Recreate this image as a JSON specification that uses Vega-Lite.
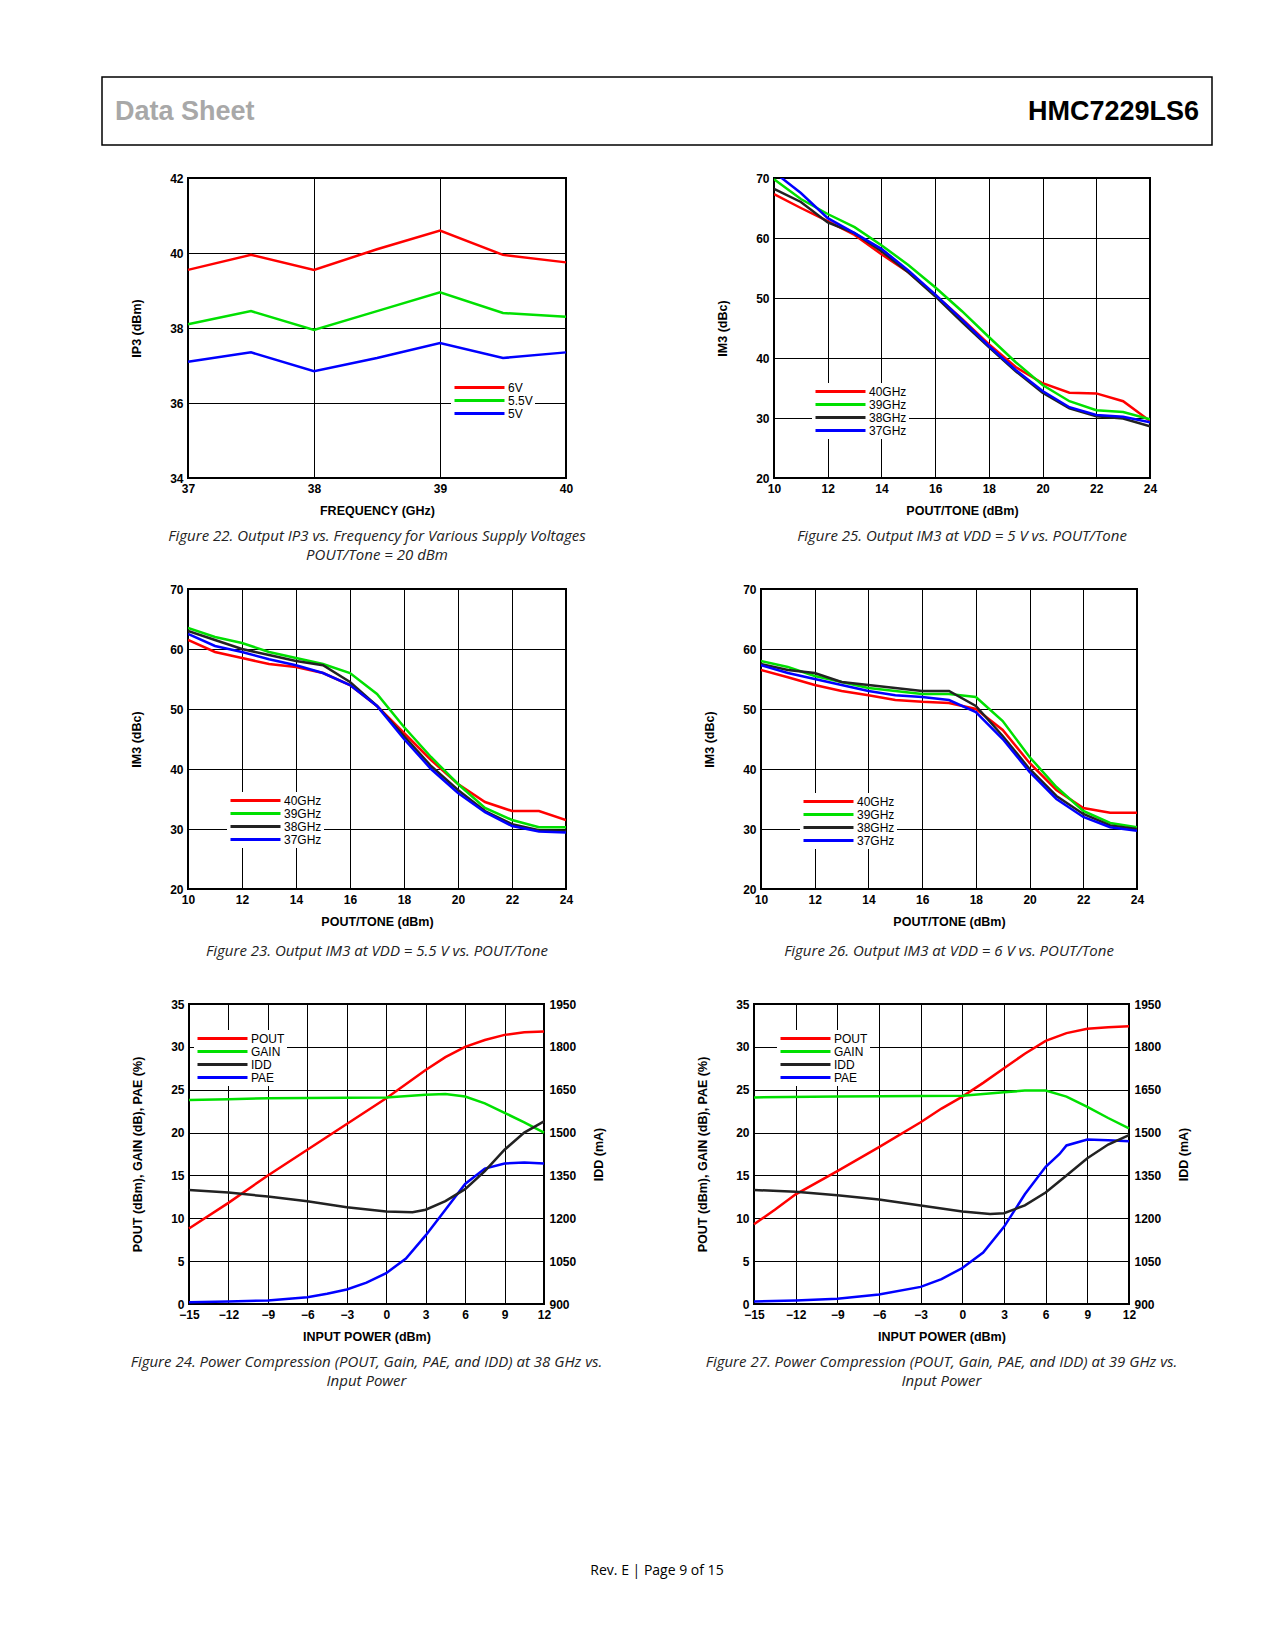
{
  "$schema": "https://vega.github.io/schema/vega-lite/v6.json",
  "padding": {"top": 76, "left": 101, "right": 10, "bottom": 10},
  "background": "white",
  "datasets": {
    "f22": [
      {"x": 37, "v": 39.55, "s": "6V"}, {"x": 37.5, "v": 39.95, "s": "6V"}, {"x": 38, "v": 39.55, "s": "6V"}, {"x": 38.5, "v": 40.1, "s": "6V"}, {"x": 39, "v": 40.6, "s": "6V"}, {"x": 39.5, "v": 39.95, "s": "6V"}, {"x": 40, "v": 39.75, "s": "6V"},
      {"x": 37, "v": 38.1, "s": "5.5V"}, {"x": 37.5, "v": 38.45, "s": "5.5V"}, {"x": 38, "v": 37.95, "s": "5.5V"}, {"x": 38.5, "v": 38.45, "s": "5.5V"}, {"x": 39, "v": 38.95, "s": "5.5V"}, {"x": 39.5, "v": 38.4, "s": "5.5V"}, {"x": 40, "v": 38.3, "s": "5.5V"},
      {"x": 37, "v": 37.1, "s": "5V"}, {"x": 37.5, "v": 37.35, "s": "5V"}, {"x": 38, "v": 36.85, "s": "5V"}, {"x": 38.5, "v": 37.2, "s": "5V"}, {"x": 39, "v": 37.6, "s": "5V"}, {"x": 39.5, "v": 37.2, "s": "5V"}, {"x": 40, "v": 37.35, "s": "5V"}
    ],
    "f25": [
      {"x":10,"v":67.3,"s":"40GHz"},{"x":11,"v":65,"s":"40GHz"},{"x":12,"v":62.8,"s":"40GHz"},{"x":13,"v":60.5,"s":"40GHz"},{"x":14,"v":57.3,"s":"40GHz"},{"x":15,"v":54.3,"s":"40GHz"},{"x":16,"v":50.5,"s":"40GHz"},{"x":17,"v":46.5,"s":"40GHz"},{"x":18,"v":42.3,"s":"40GHz"},{"x":19,"v":38.5,"s":"40GHz"},{"x":20,"v":35.8,"s":"40GHz"},{"x":21,"v":34.2,"s":"40GHz"},{"x":22,"v":34.1,"s":"40GHz"},{"x":23,"v":32.8,"s":"40GHz"},{"x":24,"v":29.5,"s":"40GHz"},
      {"x":10,"v":69.8,"s":"39GHz"},{"x":11,"v":66.5,"s":"39GHz"},{"x":12,"v":64,"s":"39GHz"},{"x":13,"v":61.8,"s":"39GHz"},{"x":14,"v":58.8,"s":"39GHz"},{"x":15,"v":55.5,"s":"39GHz"},{"x":16,"v":51.8,"s":"39GHz"},{"x":17,"v":47.8,"s":"39GHz"},{"x":18,"v":43.5,"s":"39GHz"},{"x":19,"v":39.3,"s":"39GHz"},{"x":20,"v":35.5,"s":"39GHz"},{"x":21,"v":32.8,"s":"39GHz"},{"x":22,"v":31.3,"s":"39GHz"},{"x":23,"v":31,"s":"39GHz"},{"x":24,"v":29.8,"s":"39GHz"},
      {"x":10,"v":68.2,"s":"38GHz"},{"x":11,"v":66,"s":"38GHz"},{"x":12,"v":62.6,"s":"38GHz"},{"x":13,"v":60.8,"s":"38GHz"},{"x":14,"v":57.8,"s":"38GHz"},{"x":15,"v":54.3,"s":"38GHz"},{"x":16,"v":50.3,"s":"38GHz"},{"x":17,"v":46,"s":"38GHz"},{"x":18,"v":41.8,"s":"38GHz"},{"x":19,"v":37.8,"s":"38GHz"},{"x":20,"v":34.2,"s":"38GHz"},{"x":21,"v":31.6,"s":"38GHz"},{"x":22,"v":30.3,"s":"38GHz"},{"x":23,"v":29.9,"s":"38GHz"},{"x":24,"v":28.6,"s":"38GHz"},
      {"x":10,"v":71,"s":"37GHz"},{"x":11,"v":67.5,"s":"37GHz"},{"x":12,"v":63.3,"s":"37GHz"},{"x":13,"v":60.8,"s":"37GHz"},{"x":14,"v":58.2,"s":"37GHz"},{"x":15,"v":54.6,"s":"37GHz"},{"x":16,"v":50.6,"s":"37GHz"},{"x":17,"v":46.4,"s":"37GHz"},{"x":18,"v":42,"s":"37GHz"},{"x":19,"v":38,"s":"37GHz"},{"x":20,"v":34.5,"s":"37GHz"},{"x":21,"v":31.8,"s":"37GHz"},{"x":22,"v":30.5,"s":"37GHz"},{"x":23,"v":30.2,"s":"37GHz"},{"x":24,"v":29.3,"s":"37GHz"}
    ],
    "f23": [
      {"x":10,"v":61.5,"s":"40GHz"},{"x":11,"v":59.5,"s":"40GHz"},{"x":12,"v":58.5,"s":"40GHz"},{"x":13,"v":57.5,"s":"40GHz"},{"x":14,"v":57,"s":"40GHz"},{"x":15,"v":56,"s":"40GHz"},{"x":16,"v":54,"s":"40GHz"},{"x":17,"v":50.5,"s":"40GHz"},{"x":18,"v":46,"s":"40GHz"},{"x":19,"v":41.5,"s":"40GHz"},{"x":20,"v":37.5,"s":"40GHz"},{"x":21,"v":34.5,"s":"40GHz"},{"x":22,"v":33,"s":"40GHz"},{"x":23,"v":33,"s":"40GHz"},{"x":24,"v":31.5,"s":"40GHz"},
      {"x":10,"v":63.5,"s":"39GHz"},{"x":11,"v":62,"s":"39GHz"},{"x":12,"v":61,"s":"39GHz"},{"x":13,"v":59.5,"s":"39GHz"},{"x":14,"v":58.5,"s":"39GHz"},{"x":15,"v":57.5,"s":"39GHz"},{"x":16,"v":56,"s":"39GHz"},{"x":17,"v":52.5,"s":"39GHz"},{"x":18,"v":47,"s":"39GHz"},{"x":19,"v":42,"s":"39GHz"},{"x":20,"v":37.5,"s":"39GHz"},{"x":21,"v":33.5,"s":"39GHz"},{"x":22,"v":31.5,"s":"39GHz"},{"x":23,"v":30.3,"s":"39GHz"},{"x":24,"v":30.3,"s":"39GHz"},
      {"x":10,"v":63,"s":"38GHz"},{"x":11,"v":61.5,"s":"38GHz"},{"x":12,"v":60,"s":"38GHz"},{"x":13,"v":59,"s":"38GHz"},{"x":14,"v":58,"s":"38GHz"},{"x":15,"v":57.3,"s":"38GHz"},{"x":16,"v":54.5,"s":"38GHz"},{"x":17,"v":50.5,"s":"38GHz"},{"x":18,"v":45.5,"s":"38GHz"},{"x":19,"v":40.5,"s":"38GHz"},{"x":20,"v":36.5,"s":"38GHz"},{"x":21,"v":33,"s":"38GHz"},{"x":22,"v":30.8,"s":"38GHz"},{"x":23,"v":29.8,"s":"38GHz"},{"x":24,"v":29.7,"s":"38GHz"},
      {"x":10,"v":62.5,"s":"37GHz"},{"x":11,"v":60.5,"s":"37GHz"},{"x":12,"v":59.5,"s":"37GHz"},{"x":13,"v":58.3,"s":"37GHz"},{"x":14,"v":57.3,"s":"37GHz"},{"x":15,"v":56,"s":"37GHz"},{"x":16,"v":54,"s":"37GHz"},{"x":17,"v":50.5,"s":"37GHz"},{"x":18,"v":45,"s":"37GHz"},{"x":19,"v":40,"s":"37GHz"},{"x":20,"v":36,"s":"37GHz"},{"x":21,"v":32.8,"s":"37GHz"},{"x":22,"v":30.5,"s":"37GHz"},{"x":23,"v":29.6,"s":"37GHz"},{"x":24,"v":29.4,"s":"37GHz"}
    ],
    "f26": [
      {"x":10,"v":56.5,"s":"40GHz"},{"x":11,"v":55.3,"s":"40GHz"},{"x":12,"v":54,"s":"40GHz"},{"x":13,"v":53,"s":"40GHz"},{"x":14,"v":52.3,"s":"40GHz"},{"x":15,"v":51.5,"s":"40GHz"},{"x":16,"v":51.2,"s":"40GHz"},{"x":17,"v":51,"s":"40GHz"},{"x":18,"v":50,"s":"40GHz"},{"x":19,"v":46.5,"s":"40GHz"},{"x":20,"v":41,"s":"40GHz"},{"x":21,"v":36.5,"s":"40GHz"},{"x":22,"v":33.5,"s":"40GHz"},{"x":23,"v":32.7,"s":"40GHz"},{"x":24,"v":32.7,"s":"40GHz"},
      {"x":10,"v":58,"s":"39GHz"},{"x":11,"v":57,"s":"39GHz"},{"x":12,"v":55.5,"s":"39GHz"},{"x":13,"v":54.5,"s":"39GHz"},{"x":14,"v":53.5,"s":"39GHz"},{"x":15,"v":53,"s":"39GHz"},{"x":16,"v":52.5,"s":"39GHz"},{"x":17,"v":52.5,"s":"39GHz"},{"x":18,"v":52,"s":"39GHz"},{"x":19,"v":48,"s":"39GHz"},{"x":20,"v":42,"s":"39GHz"},{"x":21,"v":37,"s":"39GHz"},{"x":22,"v":33,"s":"39GHz"},{"x":23,"v":31,"s":"39GHz"},{"x":24,"v":30.3,"s":"39GHz"},
      {"x":10,"v":57.5,"s":"38GHz"},{"x":11,"v":56.5,"s":"38GHz"},{"x":12,"v":56,"s":"38GHz"},{"x":13,"v":54.5,"s":"38GHz"},{"x":14,"v":54,"s":"38GHz"},{"x":15,"v":53.5,"s":"38GHz"},{"x":16,"v":53,"s":"38GHz"},{"x":17,"v":53,"s":"38GHz"},{"x":18,"v":50.5,"s":"38GHz"},{"x":19,"v":45.5,"s":"38GHz"},{"x":20,"v":40,"s":"38GHz"},{"x":21,"v":35.5,"s":"38GHz"},{"x":22,"v":32.5,"s":"38GHz"},{"x":23,"v":30.6,"s":"38GHz"},{"x":24,"v":30,"s":"38GHz"},
      {"x":10,"v":57.3,"s":"37GHz"},{"x":11,"v":56,"s":"37GHz"},{"x":12,"v":55,"s":"37GHz"},{"x":13,"v":54,"s":"37GHz"},{"x":14,"v":53,"s":"37GHz"},{"x":15,"v":52.3,"s":"37GHz"},{"x":16,"v":52,"s":"37GHz"},{"x":17,"v":51.5,"s":"37GHz"},{"x":18,"v":49.5,"s":"37GHz"},{"x":19,"v":45,"s":"37GHz"},{"x":20,"v":39.5,"s":"37GHz"},{"x":21,"v":35,"s":"37GHz"},{"x":22,"v":32,"s":"37GHz"},{"x":23,"v":30.3,"s":"37GHz"},{"x":24,"v":29.7,"s":"37GHz"}
    ],
    "f24": [
      {"x":-15,"v":8.8,"s":"POUT"},{"x":-12,"v":11.8,"s":"POUT"},{"x":-9,"v":15,"s":"POUT"},{"x":-6,"v":18,"s":"POUT"},{"x":-3,"v":21,"s":"POUT"},{"x":0,"v":24,"s":"POUT"},{"x":3,"v":27.3,"s":"POUT"},{"x":4.5,"v":28.8,"s":"POUT"},{"x":6,"v":30,"s":"POUT"},{"x":7.5,"v":30.8,"s":"POUT"},{"x":9,"v":31.4,"s":"POUT"},{"x":10.5,"v":31.7,"s":"POUT"},{"x":12,"v":31.8,"s":"POUT"},
      {"x":-15,"v":23.8,"s":"GAIN"},{"x":-12,"v":23.9,"s":"GAIN"},{"x":-9,"v":24,"s":"GAIN"},{"x":0,"v":24.1,"s":"GAIN"},{"x":3,"v":24.4,"s":"GAIN"},{"x":4.5,"v":24.5,"s":"GAIN"},{"x":6,"v":24.2,"s":"GAIN"},{"x":7.5,"v":23.4,"s":"GAIN"},{"x":9,"v":22.3,"s":"GAIN"},{"x":10.5,"v":21.2,"s":"GAIN"},{"x":12,"v":20,"s":"GAIN"},
      {"x":-15,"v":0.2,"s":"PAE"},{"x":-12,"v":0.3,"s":"PAE"},{"x":-9,"v":0.4,"s":"PAE"},{"x":-6,"v":0.8,"s":"PAE"},{"x":-4.5,"v":1.2,"s":"PAE"},{"x":-3,"v":1.7,"s":"PAE"},{"x":-1.5,"v":2.5,"s":"PAE"},{"x":0,"v":3.6,"s":"PAE"},{"x":1.5,"v":5.3,"s":"PAE"},{"x":3,"v":8,"s":"PAE"},{"x":4.5,"v":11,"s":"PAE"},{"x":6,"v":14,"s":"PAE"},{"x":7.5,"v":15.8,"s":"PAE"},{"x":9,"v":16.4,"s":"PAE"},{"x":10.5,"v":16.5,"s":"PAE"},{"x":12,"v":16.4,"s":"PAE"},
      {"x":-15,"i":1299,"s":"IDD"},{"x":-12,"i":1290,"s":"IDD"},{"x":-9,"i":1276,"s":"IDD"},{"x":-6,"i":1260,"s":"IDD"},{"x":-3,"i":1239,"s":"IDD"},{"x":0,"i":1224,"s":"IDD"},{"x":2,"i":1221,"s":"IDD"},{"x":3,"i":1230,"s":"IDD"},{"x":4.5,"i":1260,"s":"IDD"},{"x":6,"i":1302,"s":"IDD"},{"x":7.5,"i":1365,"s":"IDD"},{"x":9,"i":1440,"s":"IDD"},{"x":10.5,"i":1500,"s":"IDD"},{"x":12,"i":1539,"s":"IDD"}
    ],
    "f27": [
      {"x":-15,"v":9.3,"s":"POUT"},{"x":-13.5,"v":11,"s":"POUT"},{"x":-12,"v":12.8,"s":"POUT"},{"x":-9,"v":15.5,"s":"POUT"},{"x":-6,"v":18.3,"s":"POUT"},{"x":-3,"v":21.2,"s":"POUT"},{"x":-1.5,"v":22.8,"s":"POUT"},{"x":0,"v":24.2,"s":"POUT"},{"x":1.5,"v":25.8,"s":"POUT"},{"x":3,"v":27.5,"s":"POUT"},{"x":4.5,"v":29.2,"s":"POUT"},{"x":6,"v":30.7,"s":"POUT"},{"x":7.5,"v":31.6,"s":"POUT"},{"x":9,"v":32.1,"s":"POUT"},{"x":10.5,"v":32.3,"s":"POUT"},{"x":12,"v":32.4,"s":"POUT"},
      {"x":-15,"v":24.1,"s":"GAIN"},{"x":-9,"v":24.2,"s":"GAIN"},{"x":0,"v":24.3,"s":"GAIN"},{"x":3,"v":24.7,"s":"GAIN"},{"x":4.5,"v":24.9,"s":"GAIN"},{"x":6,"v":24.9,"s":"GAIN"},{"x":7.5,"v":24.2,"s":"GAIN"},{"x":9,"v":23,"s":"GAIN"},{"x":10.5,"v":21.7,"s":"GAIN"},{"x":12,"v":20.5,"s":"GAIN"},
      {"x":-15,"v":0.3,"s":"PAE"},{"x":-12,"v":0.4,"s":"PAE"},{"x":-9,"v":0.6,"s":"PAE"},{"x":-6,"v":1.1,"s":"PAE"},{"x":-3,"v":2,"s":"PAE"},{"x":-1.5,"v":2.9,"s":"PAE"},{"x":0,"v":4.2,"s":"PAE"},{"x":1.5,"v":6,"s":"PAE"},{"x":3,"v":9,"s":"PAE"},{"x":4.5,"v":12.8,"s":"PAE"},{"x":6,"v":16,"s":"PAE"},{"x":7,"v":17.5,"s":"PAE"},{"x":7.5,"v":18.5,"s":"PAE"},{"x":9,"v":19.2,"s":"PAE"},{"x":10.5,"v":19.1,"s":"PAE"},{"x":12,"v":19,"s":"PAE"},
      {"x":-15,"i":1299,"s":"IDD"},{"x":-12,"i":1293,"s":"IDD"},{"x":-9,"i":1281,"s":"IDD"},{"x":-6,"i":1266,"s":"IDD"},{"x":-3,"i":1245,"s":"IDD"},{"x":0,"i":1224,"s":"IDD"},{"x":2,"i":1215,"s":"IDD"},{"x":3,"i":1218,"s":"IDD"},{"x":4.5,"i":1245,"s":"IDD"},{"x":6,"i":1290,"s":"IDD"},{"x":7.5,"i":1350,"s":"IDD"},{"x":9,"i":1410,"s":"IDD"},{"x":10.5,"i":1458,"s":"IDD"},{"x":12,"i":1491,"s":"IDD"}
    ],
    "head": [{"a": "Data Sheet", "b": "HMC7229LS6"}],
    "foot": [{"t": "Rev. E | Page 9 of 15"}]
  },
  "spacing": 25,
  "resolve": {"scale": {"color": "independent"}, "legend": {"color": "independent"}},
  "vconcat": [
    {
      "width": 1110, "height": 68,
      "view": {"stroke": "black", "strokeWidth": 1.5},
      "data": {"name": "head"},
      "layer": [
        {"mark": {"type": "text", "align": "left", "font": "Liberation Sans", "fontWeight": "bold", "fontSize": 27, "color": "#a8a8a8", "x": 13, "y": 35}, "encoding": {"text": {"field": "a"}}},
        {"mark": {"type": "text", "align": "right", "font": "Liberation Sans", "fontWeight": "bold", "fontSize": 27, "color": "black", "x": 1097, "y": 35}, "encoding": {"text": {"field": "b"}}}
      ]
    },
    {
      "spacing": 18,
      "resolve": {"scale": {"color": "independent"}, "legend": {"color": "independent"}},
      "vconcat": [
        {
          "resolve": {"scale": {"color": "independent"}, "legend": {"color": "independent"}},
          "hconcat": [
            {"width": 7, "height": 1, "view": {"stroke": null}, "data": {"values": []}, "mark": "point", "encoding": {}},
            {
              "spacing": 128,
              "resolve": {"scale": {"color": "independent"}, "legend": {"color": "independent"}},
              "hconcat": [
                {
                  "width": 378, "height": 300,
                  "title": {"text": ["Figure 22. Output IP3 vs. Frequency for Various Supply Voltages", "POUT/Tone = 20 dBm"]},
                  "data": {"name": "f22"},
                  "mark": {"type": "line", "strokeWidth": 2.5},
                  "encoding": {
                    "x": {"field": "x", "type": "quantitative", "scale": {"domain": [37, 40]}, "axis": {"values": [37, 38, 39, 40], "title": "FREQUENCY (GHz)", "format": "d"}},
                    "y": {"field": "v", "type": "quantitative", "scale": {"domain": [34, 42]}, "axis": {"values": [34, 36, 38, 40, 42], "title": "IP3 (dBm)"}},
                    "color": {"field": "s", "type": "nominal", "scale": {"domain": ["6V", "5.5V", "5V"], "range": ["#ff0000", "#00e000", "#0000ff"]}, "legend": {"legendX": 263, "legendY": 201}}
                  }
                },
                {
                  "width": 376, "height": 300,
                  "title": {"text": "Figure 25. Output IM3 at VDD = 5 V vs. POUT/Tone"},
                  "data": {"name": "f25"},
                  "mark": {"type": "line", "strokeWidth": 2.5, "clip": true},
                  "encoding": {
                    "x": {"field": "x", "type": "quantitative", "scale": {"domain": [10, 24]}, "axis": {"values": [10, 12, 14, 16, 18, 20, 22, 24], "title": "POUT/TONE (dBm)"}},
                    "y": {"field": "v", "type": "quantitative", "scale": {"domain": [20, 70]}, "axis": {"values": [20, 30, 40, 50, 60, 70], "title": "IM3 (dBc)"}},
                    "color": {"field": "s", "type": "nominal", "scale": {"domain": ["40GHz", "39GHz", "38GHz", "37GHz"], "range": ["#ff0000", "#00e000", "#222222", "#0000ff"]}, "legend": {"legendX": 38, "legendY": 205}}
                  }
                }
              ]
            }
          ]
        },
        {
          "resolve": {"scale": {"color": "independent"}, "legend": {"color": "independent"}},
          "hconcat": [
            {"width": 7, "height": 1, "view": {"stroke": null}, "data": {"values": []}, "mark": "point", "encoding": {}},
            {
              "spacing": 128,
              "resolve": {"scale": {"color": "independent"}, "legend": {"color": "independent"}},
              "hconcat": [
                {
                  "width": 378, "height": 300,
                  "title": {"text": ["Figure 23. Output IM3 at VDD = 5.5 V vs. POUT/Tone", ""], "offset": 16},
                  "data": {"name": "f23"},
                  "mark": {"type": "line", "strokeWidth": 2.5, "clip": true},
                  "encoding": {
                    "x": {"field": "x", "type": "quantitative", "scale": {"domain": [10, 24]}, "axis": {"values": [10, 12, 14, 16, 18, 20, 22, 24], "title": "POUT/TONE (dBm)"}},
                    "y": {"field": "v", "type": "quantitative", "scale": {"domain": [20, 70]}, "axis": {"values": [20, 30, 40, 50, 60, 70], "title": "IM3 (dBc)"}},
                    "color": {"field": "s", "type": "nominal", "scale": {"domain": ["40GHz", "39GHz", "38GHz", "37GHz"], "range": ["#ff0000", "#00e000", "#222222", "#0000ff"]}, "legend": {"legendX": 39, "legendY": 203}}
                  }
                },
                {
                  "width": 376, "height": 300,
                  "title": {"text": ["Figure 26. Output IM3 at VDD = 6 V vs. POUT/Tone", ""], "offset": 16},
                  "data": {"name": "f26"},
                  "mark": {"type": "line", "strokeWidth": 2.5, "clip": true},
                  "encoding": {
                    "x": {"field": "x", "type": "quantitative", "scale": {"domain": [10, 24]}, "axis": {"values": [10, 12, 14, 16, 18, 20, 22, 24], "title": "POUT/TONE (dBm)"}},
                    "y": {"field": "v", "type": "quantitative", "scale": {"domain": [20, 70]}, "axis": {"values": [20, 30, 40, 50, 60, 70], "title": "IM3 (dBc)"}},
                    "color": {"field": "s", "type": "nominal", "scale": {"domain": ["40GHz", "39GHz", "38GHz", "37GHz"], "range": ["#ff0000", "#00e000", "#222222", "#0000ff"]}, "legend": {"legendX": 39, "legendY": 204}}
                  }
                }
              ]
            }
          ]
        },
        {
          "resolve": {"scale": {"color": "independent"}, "legend": {"color": "independent"}},
          "hconcat": [
            {"width": 7, "height": 1, "view": {"stroke": null}, "data": {"values": []}, "mark": "point", "encoding": {}},
            {
              "spacing": 88,
              "resolve": {"scale": {"color": "independent"}, "legend": {"color": "independent"}},
              "hconcat": [
                {
                  "width": 355, "height": 300,
                  "title": {"text": ["Figure 24. Power Compression (POUT, Gain, PAE, and IDD) at 38 GHz vs.", "Input Power"]},
                  "data": {"name": "f24"},
                  "encoding": {
                    "x": {"field": "x", "type": "quantitative", "scale": {"domain": [-15, 12]}, "axis": {"values": [-15, -12, -9, -6, -3, 0, 3, 6, 9, 12], "title": "INPUT POWER (dBm)"}},
                    "color": {"field": "s", "type": "nominal", "scale": {"domain": ["POUT", "GAIN", "IDD", "PAE"], "range": ["#ff0000", "#00e000", "#222222", "#0000ff"]}, "legend": {"legendX": 5, "legendY": 26}}
                  },
                  "layer": [
                    {
                      "transform": [{"filter": "datum.s !== 'IDD'"}],
                      "mark": {"type": "line", "strokeWidth": 2.5},
                      "encoding": {"y": {"field": "v", "type": "quantitative", "scale": {"domain": [0, 35]}, "axis": {"values": [0, 5, 10, 15, 20, 25, 30, 35], "title": "POUT (dBm), GAIN (dB), PAE (%)"}}}
                    },
                    {
                      "transform": [{"filter": "datum.s === 'IDD'"}],
                      "mark": {"type": "line", "strokeWidth": 2.5},
                      "encoding": {"y": {"field": "i", "type": "quantitative", "scale": {"domain": [900, 1950]}, "axis": {"orient": "right", "grid": false, "format": "d", "titleAngle": 270, "titlePadding": 30, "values": [900, 1050, 1200, 1350, 1500, 1650, 1800, 1950], "title": "IDD (mA)"}}}
                    }
                  ],
                  "resolve": {"scale": {"y": "independent"}}
                },
                {
                  "width": 375, "height": 300,
                  "title": {"text": ["Figure 27. Power Compression (POUT, Gain, PAE, and IDD) at 39 GHz vs.", "Input Power"]},
                  "data": {"name": "f27"},
                  "encoding": {
                    "x": {"field": "x", "type": "quantitative", "scale": {"domain": [-15, 12]}, "axis": {"values": [-15, -12, -9, -6, -3, 0, 3, 6, 9, 12], "title": "INPUT POWER (dBm)"}},
                    "color": {"field": "s", "type": "nominal", "scale": {"domain": ["POUT", "GAIN", "IDD", "PAE"], "range": ["#ff0000", "#00e000", "#222222", "#0000ff"]}, "legend": {"legendX": 23, "legendY": 26}}
                  },
                  "layer": [
                    {
                      "transform": [{"filter": "datum.s !== 'IDD'"}],
                      "mark": {"type": "line", "strokeWidth": 2.5},
                      "encoding": {"y": {"field": "v", "type": "quantitative", "scale": {"domain": [0, 35]}, "axis": {"values": [0, 5, 10, 15, 20, 25, 30, 35], "title": "POUT (dBm), GAIN (dB), PAE (%)"}}}
                    },
                    {
                      "transform": [{"filter": "datum.s === 'IDD'"}],
                      "mark": {"type": "line", "strokeWidth": 2.5},
                      "encoding": {"y": {"field": "i", "type": "quantitative", "scale": {"domain": [900, 1950]}, "axis": {"orient": "right", "grid": false, "format": "d", "titleAngle": 270, "titlePadding": 30, "values": [900, 1050, 1200, 1350, 1500, 1650, 1800, 1950], "title": "IDD (mA)"}}}
                    }
                  ],
                  "resolve": {"scale": {"y": "independent"}}
                }
              ]
            }
          ]
        },
        {
          "width": 1110, "height": 172,
          "view": {"stroke": null},
          "data": {"name": "foot"},
          "mark": {"type": "text", "font": "Open Sans", "fontSize": 14, "x": 555, "y": 163},
          "encoding": {"text": {"field": "t"}}
        }
      ]
    }
  ],
  "config": {
    "view": {"stroke": "black", "strokeWidth": 2},
    "axis": {
      "grid": true, "gridColor": "black", "gridOpacity": 1, "gridWidth": 1,
      "domain": false, "ticks": false,
      "labelFont": "Liberation Sans", "labelFontWeight": "bold", "labelFontSize": 12, "labelColor": "black", "labelPadding": 5,
      "titleFont": "Liberation Sans", "titleFontWeight": "bold", "titleFontSize": 12.5, "titleColor": "black", "titlePadding": 10
    },
    "axisY": {"titlePadding": 26},
    "axisX": {"labelFlush": false},
    "legend": {
      "orient": "none", "title": null, "fillColor": "white", "padding": 2, "rowPadding": 0,
      "symbolType": "M-1,0L9,0", "symbolSize": 100, "symbolStrokeWidth": 3, "symbolOpacity": 1,
      "labelFont": "Liberation Sans", "labelFontSize": 12, "labelColor": "black", "labelOffset": 42, "labelLimit": 200
    },
    "title": {
      "orient": "bottom", "font": "Open Sans", "fontStyle": "italic", "fontWeight": "normal", "fontSize": 15, "color": "#222222", "offset": 12, "lineHeight": 19
    }
  }
}
